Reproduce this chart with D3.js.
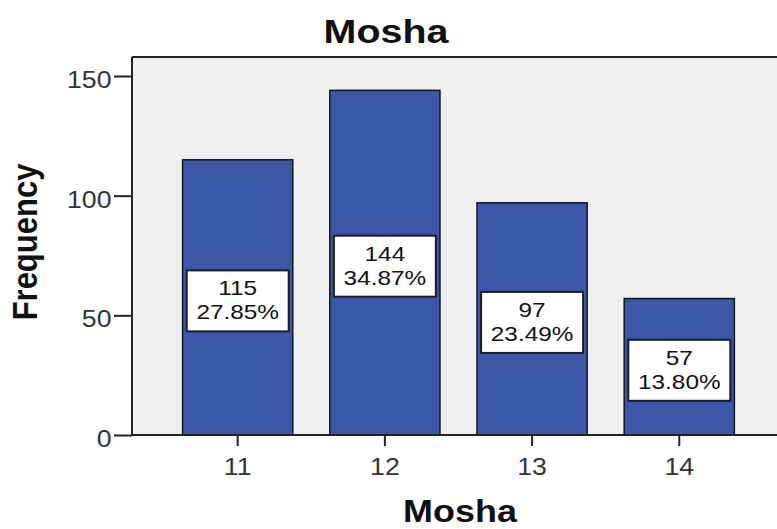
<!DOCTYPE html>
<html>
<head>
<meta charset="utf-8">
<script src="https://cdn.jsdelivr.net/npm/d3@7"></script>
<style>
html,body{margin:0;padding:0;background:#fff;}
svg{display:block;font-family:"Liberation Sans",Arial,sans-serif;}
</style>
</head>
<body>
<svg id="chart" width="777" height="529"></svg>
<script>
const categories = ["11", "12", "13", "14"];
const frequencies = [115, 144, 97, 57];
const percentLabels = ["27.85%", "34.87%", "23.49%", "13.80%"];
const yTicks = [0, 50, 100, 150];

const svg = d3.select("#chart");
const W = 777, H = 529;
const SX = 1.16; // horizontal stretch of text seen in the reference
const plot = {left: 132, top: 57, bottom: 435, right: 800};

const y = d3.scaleLinear().domain([0, 150]).range([435, 76]);
const x = d3.scaleBand().domain(categories)
  .range([plot.left, plot.left + 147.2 * (4 - 0.252 + 2 * 0.344)])
  .paddingInner(0.252).paddingOuter(0.344);

// plot background
svg.append("rect")
  .attr("x", plot.left).attr("y", plot.top)
  .attr("width", plot.right - plot.left).attr("height", plot.bottom - plot.top)
  .attr("fill", "#efefef");

// top frame line
svg.append("line").attr("x1", plot.left).attr("x2", W + 5).attr("y1", plot.top).attr("y2", plot.top)
  .attr("stroke", "#222").attr("stroke-width", 2);

// bars
svg.selectAll("rect.bar").data(categories).enter().append("rect")
  .attr("class", "bar")
  .attr("x", d => x(d))
  .attr("y", (d, i) => y(frequencies[i]))
  .attr("width", x.bandwidth())
  .attr("height", (d, i) => y(0) - y(frequencies[i]))
  .attr("fill", "#3d57a8")
  .attr("stroke", "#1a1a2a").attr("stroke-width", 1.6);

// y axis
const yAxis = svg.append("g").attr("transform", `translate(${plot.left},0)`)
  .call(d3.axisLeft(y).tickValues(yTicks).tickSize(18).tickFormat(d3.format("d")));
yAxis.select(".domain").attr("d", `M0,${plot.top}V${plot.bottom}`).attr("stroke", "#222").attr("stroke-width", 2);
yAxis.selectAll(".tick line").attr("stroke", "#222").attr("stroke-width", 2);
yAxis.selectAll(".tick text")
  .attr("font-size", 23).attr("fill", "#333")
  .attr("font-family", "'Liberation Sans', Arial, sans-serif")
  .attr("x", -20.5 / SX).attr("dy", "0.5em")
  .attr("transform", `scale(${SX},1)`);

// x axis
const xAxis = svg.append("g").attr("transform", `translate(0,${plot.bottom})`)
  .call(d3.axisBottom(x).tickSize(11));
xAxis.select(".domain").attr("d", `M${plot.left},0H${W + 5}`).attr("stroke", "#222").attr("stroke-width", 2);
xAxis.selectAll(".tick line").attr("stroke", "#222").attr("stroke-width", 2);
xAxis.selectAll(".tick text")
  .attr("font-size", 23).attr("fill", "#333")
  .attr("font-family", "'Liberation Sans', Arial, sans-serif")
  .attr("y", 40).attr("dy", 0)
  .attr("transform", `scale(${SX},1)`);

// value label boxes
const boxW = 102, boxH = 61;
const lbl = svg.selectAll("g.lbl").data(categories).enter().append("g")
  .attr("class", "lbl")
  .attr("transform", (d, i) => `translate(${x(d) + x.bandwidth() / 2},${y(frequencies[i] / 2) + 3.5})`);
lbl.append("rect")
  .attr("x", -boxW / 2).attr("y", -boxH / 2).attr("width", boxW).attr("height", boxH)
  .attr("fill", "#fff").attr("stroke", "#1a1a2a").attr("stroke-width", 2);
const lt = lbl.append("g").attr("transform", `scale(${SX},1)`);
lt.append("text").attr("text-anchor", "middle").attr("y", -5.5)
  .attr("font-size", 21).attr("fill", "#111").text((d, i) => frequencies[i]);
lt.append("text").attr("text-anchor", "middle").attr("y", 18.5)
  .attr("font-size", 21).attr("fill", "#111").text((d, i) => percentLabels[i]);

// title
svg.append("text").attr("transform", `translate(386,43) scale(${SX},1)`).attr("text-anchor", "middle")
  .attr("font-size", 34).attr("font-weight", "bold").attr("fill", "#111").text("Mosha");

// x axis title
svg.append("text").attr("transform", `translate(460,522) scale(${SX},1)`).attr("text-anchor", "middle")
  .attr("font-size", 31).attr("font-weight", "bold").attr("fill", "#111").text("Mosha");

// y axis title
svg.append("text").attr("transform", `translate(37,242) scale(${SX},1) rotate(-90)`).attr("text-anchor", "middle")
  .attr("font-size", 31).attr("font-weight", "bold").attr("fill", "#111").text("Frequency");
</script>
</body>
</html>
